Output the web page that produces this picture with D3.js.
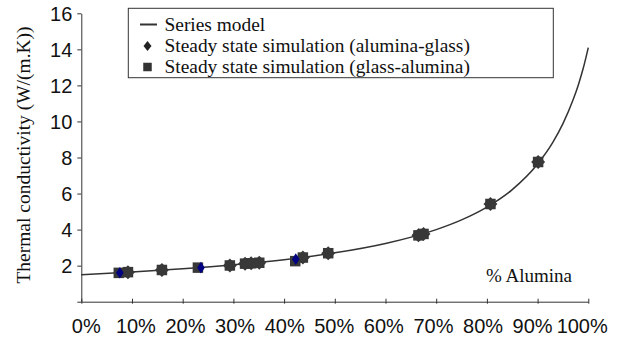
<!DOCTYPE html>
<html>
<head>
<meta charset="utf-8">
<script src="https://cdn.jsdelivr.net/npm/d3@7"></script>
<style>
  html, body { margin: 0; padding: 0; background: #fff; }
  svg { display: block; }
</style>
</head>
<body>
<svg class="chart" width="619" height="337"></svg>
<script>
// series model curve (fraction alumina, W/(m.K))
const modelX = [0, 0.1, 0.2, 0.3, 0.4, 0.5, 0.6, 0.7, 0.75, 0.8, 0.85, 0.9, 0.93, 0.95, 0.97, 0.98, 0.99, 1.0];
const modelY = [1.5, 1.65, 1.83, 2.05, 2.33, 2.71, 3.23, 4.0, 4.54, 5.25, 6.22, 7.64, 8.84, 9.88, 11.2, 12.0, 12.95, 14.1];

// steady state simulation (alumina-glass), diamonds
const agX = [0.092, 0.159, 0.293, 0.323, 0.335, 0.351, 0.437, 0.487, 0.665, 0.675, 0.807, 0.901];
const agY = [1.64, 1.76, 2.01, 2.11, 2.13, 2.16, 2.45, 2.69, 3.68, 3.76, 5.42, 7.75];

// steady state simulation (glass-alumina), squares
const gaX = [0.074, 0.092, 0.159, 0.230, 0.293, 0.323, 0.335, 0.351, 0.422, 0.437, 0.487, 0.665, 0.675, 0.807, 0.901];
const gaY = [1.60, 1.64, 1.76, 1.89, 2.01, 2.11, 2.13, 2.16, 2.25, 2.45, 2.69, 3.68, 3.76, 5.42, 7.75];

// diamonds that show up in navy on top
const navyX = [0.076, 0.236, 0.423];
const navyY = [1.61, 1.89, 2.36];

const yTicks = [0, 2, 4, 6, 8, 10, 12, 14, 16];
const xTicks = [0, 0.1, 0.2, 0.3, 0.4, 0.5, 0.6, 0.7, 0.8, 0.9, 1.0];

const legendLabels = [
  "Series model",
  "Steady state simulation (alumina-glass)",
  "Steady state simulation (glass-alumina)"
];

const sans = "'Liberation Sans', Arial, sans-serif";
const serif = "'Liberation Serif', 'Times New Roman', serif";
const ink = "#333";

const svg = d3.select(".chart");

const x = d3.scaleLinear().domain([0, 1]).range([81.3, 588.3]);
const y = d3.scaleLinear().domain([0, 16]).range([301.7, 13.3]);
// the x labels sit on a slightly narrower span than the ticks
const xLab = d3.scaleLinear().domain([0, 1]).range([85.8, 581.7]);

// diamond path, half width w and half height h
function diamond(w, h) {
  return `M0,${-h}L${w},0L0,${h}L${-w},0Z`;
}
function square(s) {
  const a = s / 2;
  return `M${-a},${-a}H${a}V${a}H${-a}Z`;
}

// y axis
const yAxis = svg.append("g")
  .attr("transform", `translate(${x(0)},0)`)
  .call(d3.axisLeft(y).tickValues(yTicks).tickSize(4).tickSizeOuter(0)
    .tickFormat(d => d === 0 ? "" : d));
yAxis.select(".domain").attr("stroke", ink);
yAxis.selectAll(".tick line").attr("stroke", ink);
yAxis.selectAll(".tick text")
  .attr("x", -9)
  .attr("dy", "0.36em")
  .attr("fill", "#111")
  .style("font-family", sans)
  .style("font-size", "20px");

// x axis
const xAxis = svg.append("g")
  .attr("transform", `translate(0,${y(0)})`)
  .call(d3.axisBottom(x).tickValues(xTicks).tickSize(3).tickSizeOuter(0)
    .tickFormat(d3.format(".0%")));
xAxis.select(".domain").attr("stroke", ink);
xAxis.selectAll(".tick line").attr("y1", -3).attr("y2", 2).attr("stroke", ink);
xAxis.selectAll(".tick text")
  .attr("x", d => xLab(d) - x(d))
  .attr("y", 31.5)
  .attr("dy", null)
  .attr("fill", "#111")
  .style("font-family", sans)
  .style("font-size", "20px");

// axis titles
svg.append("text")
  .attr("transform", `translate(30,155) rotate(-90)`)
  .attr("text-anchor", "middle")
  .style("font-family", serif)
  .style("font-size", "19.5px")
  .attr("fill", "#111")
  .text("Thermal conductivity (W/(m.K))");

svg.append("text")
  .attr("x", 529)
  .attr("y", 282)
  .attr("text-anchor", "middle")
  .style("font-family", serif)
  .style("font-size", "19px")
  .attr("fill", "#111")
  .text("% Alumina");

// series model line
const model = modelX.map((v, i) => ({ x: v, y: modelY[i] }));
svg.append("path")
  .datum(model)
  .attr("fill", "none")
  .attr("stroke", ink)
  .attr("stroke-width", 1.5)
  .attr("d", d3.line().x(d => x(d.x)).y(d => y(d.y)).curve(d3.curveMonotoneX));

// markers
svg.append("g").selectAll("path")
  .data(gaX.map((v, i) => ({ x: v, y: gaY[i] })))
  .join("path")
  .attr("transform", d => `translate(${x(d.x)},${y(d.y)})`)
  .attr("d", square(10.5))
  .attr("fill", "#383838");

svg.append("g").selectAll("path")
  .data(agX.map((v, i) => ({ x: v, y: agY[i] })))
  .join("path")
  .attr("transform", d => `translate(${x(d.x)},${y(d.y)})`)
  .attr("d", diamond(7, 7))
  .attr("fill", "#383838");

svg.append("g").selectAll("path")
  .data(navyX.map((v, i) => ({ x: v, y: navyY[i] })))
  .join("path")
  .attr("transform", d => `translate(${x(d.x)},${y(d.y)})`)
  .attr("d", diamond(3.8, 5.8))
  .attr("fill", "#000080");

// legend
const legend = svg.append("g");
legend.append("rect")
  .attr("x", 128.3).attr("y", 8.3)
  .attr("width", 425).attr("height", 69.4)
  .attr("fill", "#fff")
  .attr("stroke", ink)
  .attr("stroke-width", 1);

const rowY = [24.5, 46, 67];
legend.append("line")
  .attr("x1", 140).attr("x2", 157)
  .attr("y1", rowY[0]).attr("y2", rowY[0])
  .attr("stroke", ink).attr("stroke-width", 2);
legend.append("path")
  .attr("transform", `translate(147.5,${rowY[1]})`)
  .attr("d", diamond(4, 5))
  .attr("fill", "#222");
legend.append("path")
  .attr("transform", `translate(147.5,${rowY[2]})`)
  .attr("d", square(8.5))
  .attr("fill", ink);

legend.selectAll("text.lab")
  .data(legendLabels)
  .join("text")
  .attr("class", "lab")
  .attr("x", 164.5)
  .attr("y", (d, i) => rowY[i] + 6)
  .style("font-family", serif)
  .style("font-size", "19.4px")
  .attr("fill", "#111")
  .text(d => d);
</script>
</body>
</html>
